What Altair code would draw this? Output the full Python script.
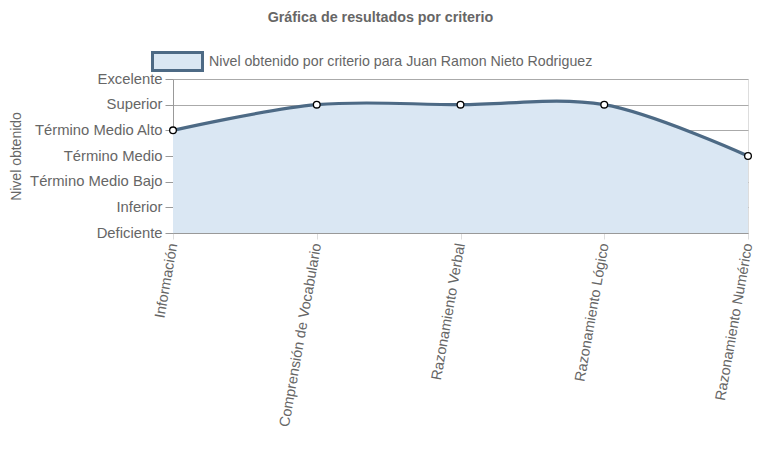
import altair as alt
import pandas as pd

criterios = ["Información", "Comprensión de Vocabulario", "Razonamiento Verbal",
             "Razonamiento Lógico", "Razonamiento Numérico"]
valores = [4, 5, 5, 5, 3]
niveles = ["Deficiente", "Inferior", "Término Medio Bajo", "Término Medio",
           "Término Medio Alto", "Superior", "Excelente"]
serie = "Nivel obtenido por criterio para Juan Ramon Nieto Rodriguez"

df = pd.DataFrame({"criterio": criterios, "valor": valores, "serie": serie})

FONT = "Liberation Sans"
GRAY = "#666666"
FILL = "#dae7f3"
LINE = "#4d6a85"

label_arr = "[" + ",".join("'" + n + "'" for n in niveles) + "]"

x = alt.X("criterio:N", sort=criterios,
          scale=alt.Scale(type="point", padding=0),
          axis=alt.Axis(title=None, labelAngle=280, labelAlign="right", labelBaseline="middle",
                        labelFont=FONT, labelFontSize=14.5, labelColor=GRAY, labelPadding=4,
                        tickSize=6, tickColor="#dddddd", gridColor="#dddddd",
                        domainColor="#999999", labelLimit=300))
y = alt.Y("valor:Q", scale=alt.Scale(domain=[0, 6], nice=False),
          axis=alt.Axis(title="Nivel obtenido", values=list(range(7)),
                        labelExpr=label_arr + "[datum.value]",
                        labelFont=FONT, labelFontSize=14.8, labelColor=GRAY,
                        titleFont=FONT, titleFontSize=14, titleColor=GRAY,
                        titleFontWeight="normal", titlePadding=6,
                        tickSize=8, tickColor="#999999", gridColor="#aaaaaa",
                        domainColor="#999999", labelPadding=3))

base = alt.Chart(df).encode(x=x, y=y)

area = base.mark_area(interpolate="catmull-rom").encode(
    color=alt.Color("serie:N", scale=alt.Scale(range=[FILL]),
                    legend=alt.Legend(title=None, orient="none", legendX=-22, legendY=-44,
                                      symbolType="M-1,-0.36H1V0.36H-1Z", symbolSize=2500,
                                      symbolStrokeColor=LINE, symbolStrokeWidth=3,
                                      symbolFillColor=FILL, symbolOpacity=1,
                                      labelFont=FONT, labelFontSize=14.2, labelColor=GRAY,
                                      labelOffset=5, padding=0, labelLimit=500))
)
line = base.mark_line(interpolate="catmull-rom", color=LINE, strokeWidth=3.2)
points = base.mark_point(filled=True, fill="white", stroke="black", strokeWidth=1.3,
                         size=45, opacity=1)

chart = (area + line + points).properties(
    width=575, height=154,
    title=alt.TitleParams("Gráfica de resultados por criterio", font=FONT, fontSize=14.3,
                          fontWeight="bold", color=GRAY, anchor="middle", dx=-80, offset=10),
    autosize=alt.AutoSizeParams(type="none"),
    padding={"left": 165, "top": 71, "right": 7, "bottom": 200},
).configure_view(stroke=None).configure(background="white")

chart.save("out.html", embed_options={"renderer": "svg", "actions": False})
